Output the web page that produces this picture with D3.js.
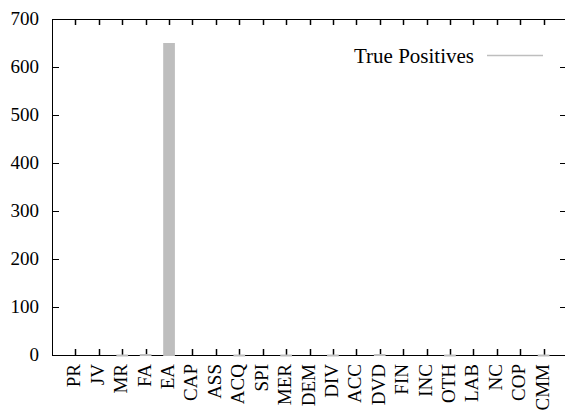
<!DOCTYPE html>
<html>
<head>
<meta charset="utf-8">
<script src="https://cdn.jsdelivr.net/npm/d3@7"></script>
<style>
body { margin: 0; background: #fff; }
text { font-family: "Liberation Serif", "DejaVu Serif", serif; fill: #000; }
</style>
</head>
<body>
<div id="chart"></div>
<script>
const categories = ['PR','JV','MR','FA','EA','CAP','ASS','ACQ','SPI','MER','DEM','DIV','ACC','DVD','FIN','INC','OTH','LAB','NC','COP','CMM'];
const truePositives = [0,0,1,2,650,0,0,1,0,1,0,1,0,2,0,0,1,0,0,0,1];
const yTicks = [0,100,200,300,400,500,600,700];
const seriesName = 'True Positives';

const width = 565, height = 419;
const plotLeft = 52, plotRight = 567, plotTop = 19, plotBottom = 355;

const svg = d3.select('#chart')
    .append('svg')
    .attr('width', width)
    .attr('height', height);

let x = d3.scaleLinear().domain([-1, categories.length]).range([plotLeft, plotRight]);
let y = d3.scaleLinear().domain([0, 700]).range([plotBottom, plotTop]);

// frame
svg.append('rect')
    .attr('x', plotLeft + 0.5)
    .attr('y', plotTop + 0.5)
    .attr('width', plotRight - plotLeft)
    .attr('height', plotBottom - plotTop)
    .style('fill', 'none')
    .style('stroke', '#000')
    .style('stroke-width', 1);

// y ticks, left and mirrored right
yTicks.forEach(t => {
    let yy = Math.round(y(t)) + 0.5;
    svg.append('line')
        .attr('x1', plotLeft).attr('x2', plotLeft + 7)
        .attr('y1', yy).attr('y2', yy)
        .style('stroke', '#000');
    svg.append('line')
        .attr('x1', plotRight - 7).attr('x2', plotRight)
        .attr('y1', yy).attr('y2', yy)
        .style('stroke', '#000');
    svg.append('text')
        .attr('x', 39)
        .attr('y', y(t) + 6)
        .style('text-anchor', 'end')
        .style('font-size', '19px')
        .text(t);
});

// x ticks bottom and top
categories.forEach((c, i) => {
    let xx = Math.round(x(i)) + 0.5;
    svg.append('line')
        .attr('x1', xx).attr('x2', xx)
        .attr('y1', plotBottom).attr('y2', plotBottom - 6)
        .style('stroke', '#000').style('stroke-width', 1.5);
    svg.append('line')
        .attr('x1', xx).attr('x2', xx)
        .attr('y1', plotTop).attr('y2', plotTop + 6)
        .style('stroke', '#000').style('stroke-width', 1.5);
    svg.append('text')
        .attr('transform', 'translate(' + (x(i) + 5) + ',' + (plotBottom + 9) + ') rotate(-90)')
        .style('text-anchor', 'end')
        .style('font-size', '19px')
        .text(c);
});

// bars
const barW = x(0.5) - x(0);
svg.selectAll('.bar')
    .data(truePositives)
    .enter()
    .append('rect')
    .attr('class', 'bar')
    .attr('x', (d, i) => x(i) - barW / 2)
    .attr('y', d => y(d))
    .attr('width', barW)
    .attr('height', d => d > 0 ? Math.max(y(0) - y(d), 1) + 1 : 0)
    .style('fill', '#bebebe');

// legend
svg.append('text')
    .attr('x', 474)
    .attr('y', 63)
    .style('text-anchor', 'end')
    .style('font-size', '21px')
    .text(seriesName);

svg.append('line')
    .attr('x1', 487).attr('x2', 543)
    .attr('y1', 55.5).attr('y2', 55.5)
    .style('stroke', '#bebebe')
    .style('stroke-width', 1.5);
</script>
</body>
</html>
